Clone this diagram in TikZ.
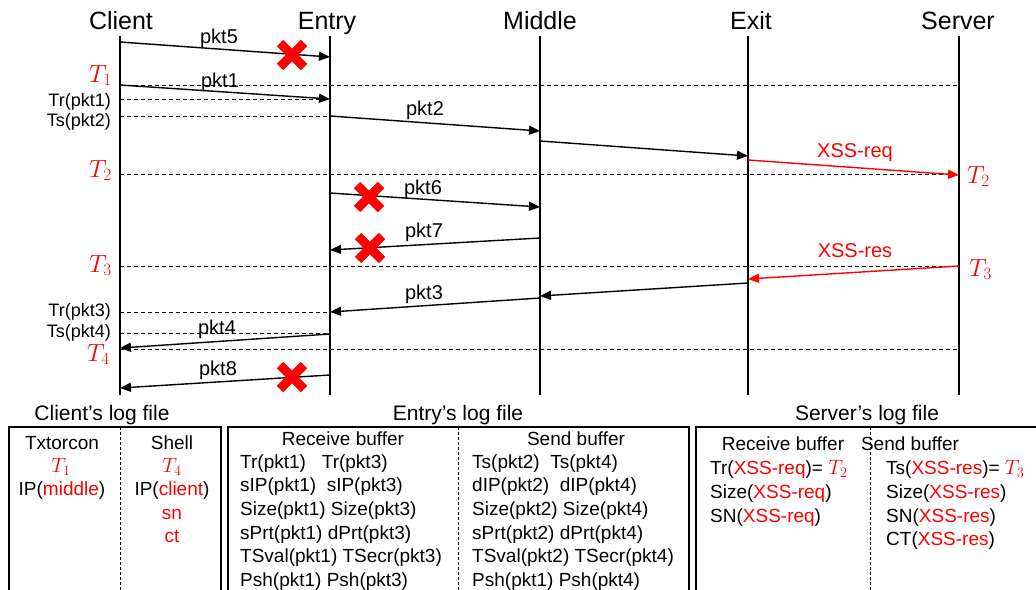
\documentclass[tikz,border=0pt]{standalone}
\usepackage{fontspec}
\setmainfont{Liberation Sans}
\usetikzlibrary{arrows.meta}
\newcommand{\redT}[1]{\textcolor{red}{\fontsize{21}{23}\selectfont$T_{#1}$}}
\begin{document}
\begin{tikzpicture}[x=1pt,y=-1pt,
  life/.style={line width=2.2pt},
  msg/.style={line width=1.4pt,-{Triangle[length=11pt,width=9pt]}},
  xss/.style={msg,color=red},
  guide/.style={line width=0.8pt,dash pattern=on 4pt off 3pt},
  head/.style={font=\fontsize{25}{28}\selectfont,inner sep=0pt,anchor=base},
  lbl/.style={font=\fontsize{20}{24}\selectfont,inner sep=0pt,anchor=base},
  side/.style={font=\fontsize{18}{22}\selectfont,inner sep=0pt,anchor=east},
  tm/.style={text=red,font=\fontsize{24}{28}\selectfont,inner sep=0pt},
  logtitle/.style={font=\fontsize{21}{25}\selectfont,inner sep=0pt,anchor=base},
  logbox/.style={line width=1.2pt},
  logsep/.style={line width=0.9pt,dash pattern=on 3pt off 2pt},
  row/.style={font=\fontsize{19}{23}\selectfont,inner sep=0pt,anchor=base west},
  crow/.style={font=\fontsize{19}{23}\selectfont,inner sep=0pt,anchor=base},
  lost mark/.pic={\draw[red,line width=9pt] (-12pt,-12pt) -- (12pt,12pt) (-12pt,12pt) -- (12pt,-12pt);},
]
\useasboundingbox (0,0) rectangle (1036,589);
\clip (0,0) rectangle (1036,589);

% ---------- lifeline heads ----------
\node[head] (client) at (121,29) {Client};
\node[head] (entry)  at (327,29) {Entry};
\node[head] (middle) at (540,29) {Middle};
\node[head] (exit)   at (751,29) {Exit};
\node[head] (server) at (958,29) {Server};

% ---------- time guides ----------
\coordinate (g1a) at (120,85);  \coordinate (g1b) at (959,85);
\coordinate (g2a) at (120,99);  \coordinate (g2b) at (330,99);
\coordinate (g3a) at (120,116); \coordinate (g3b) at (330,116);
\coordinate (g4a) at (120,174); \coordinate (g4b) at (959,174);
\coordinate (g5a) at (120,266); \coordinate (g5b) at (959,266);
\coordinate (g6a) at (120,312); \coordinate (g6b) at (330,312);
\coordinate (g7a) at (120,333); \coordinate (g7b) at (330,333);
\coordinate (g8a) at (120,349); \coordinate (g8b) at (959,349);
\foreach \g in {1,...,8} \draw[guide] (g\g a) -- (g\g b);

% ---------- lifelines ----------
\coordinate (cl0) at (120,36); \coordinate (cl1) at (120,395);
\coordinate (en0) at (330,36); \coordinate (en1) at (330,395);
\coordinate (mi0) at (540,36); \coordinate (mi1) at (540,395);
\coordinate (ex0) at (748,36); \coordinate (ex1) at (748,395);
\coordinate (se0) at (959,36); \coordinate (se1) at (959,395);
\foreach \l in {cl,en,mi,ex,se} \draw[life] (\l0) -- (\l1);

% ---------- time labels ----------
\node[tm,anchor=base east] (t1l) at (112,82) {$T_1$};
\node[side] (trp1) at (111,102) {Tr(pkt1)};
\node[side] (tsp2) at (111,122) {Ts(pkt2)};
\node[tm,anchor=base east] (t2l) at (112,177) {$T_2$};
\node[tm,anchor=base east] (t3l) at (112,272) {$T_3$};
\node[side] (trp3) at (111,312) {Tr(pkt3)};
\node[side] (tsp4) at (111,333) {Ts(pkt4)};
\node[tm,anchor=base east] (t4l) at (110,361) {$T_4$};
\node[tm,anchor=base west] (t2r) at (967,183) {$T_2$};
\node[tm,anchor=base west] (t3r) at (969,276) {$T_3$};

% ---------- messages ----------
\coordinate (p5a) at (120,42);  \coordinate (p5b) at (330,57);
\coordinate (p1a) at (120,85);  \coordinate (p1b) at (330,99);
\coordinate (p2a) at (330,116); \coordinate (p2b) at (540,131);
\coordinate (m2a) at (540,141); \coordinate (m2b) at (748,156);
\coordinate (xqa) at (748,160); \coordinate (xqb) at (959,175);
\coordinate (p6a) at (330,193); \coordinate (p6b) at (540,207);
\coordinate (p7a) at (540,238); \coordinate (p7b) at (330,250);
\coordinate (xra) at (959,266); \coordinate (xrb) at (748,279);
\coordinate (e2a) at (748,283); \coordinate (e2b) at (540,296);
\coordinate (p3a) at (540,298); \coordinate (p3b) at (330,312);
\coordinate (p4a) at (330,334); \coordinate (p4b) at (120,348);
\coordinate (p8a) at (330,375); \coordinate (p8b) at (120,388);

\foreach \m in {p5,p1,p2,m2,p6,p7,e2,p3,p4,p8} \draw[msg] (\m a) -- (\m b);
\draw[xss] (xqa) -- (xqb);
\draw[xss] (xra) -- (xrb);

\node[lbl] (lp5) at (219,43) {pkt5};
\node[lbl] (lp1) at (220,87) {pkt1};
\node[lbl] (lp2) at (425,115) {pkt2};
\node[lbl] (lp6) at (423,194) {pkt6};
\node[lbl] (lp7) at (424,237) {pkt7};
\node[lbl] (lp3) at (424,299) {pkt3};
\node[lbl] (lp4) at (217,334) {pkt4};
\node[lbl] (lp8) at (218,375) {pkt8};
\node[lbl,text=red] (lxq) at (855,157) {XSS-req};
\node[lbl,text=red] (lxr) at (855,257) {XSS-res};

% ---------- dropped packets ----------
\pic at (292,55) {lost mark};
\pic at (369,197) {lost mark};
\pic at (370,248) {lost mark};
\pic at (292,377) {lost mark};

% ---------- log files ----------
\node[logtitle] (clog) at (102,420) {Client’s log file};
\node[logtitle] (elog) at (458,420) {Entry’s log file};
\node[logtitle] (slog) at (867,420) {Server’s log file};

\draw[logbox] (9,620) |- (221,427) -- (221,620);
\draw[logsep] (120,427) -- (120,620);
\draw[logbox] (228,620) |- (689,427) -- (689,620);
\draw[logsep] (458,427) -- (458,620);
\draw[logbox] (696,620) |- (1060,427);
\draw[logsep] (870,427) -- (870,620);

% client log
\node[crow] (c11) at (62,449) {Txtorcon};
\node[crow] (c12) at (61,472) {\redT{1}};
\node[crow] (c13) at (62,495) {IP(\textcolor{red}{middle})};
\node[crow] (c21) at (172,449) {Shell};
\node[crow] (c22) at (172,472) {\redT{4}};
\node[crow] (c23) at (172,495) {IP(\textcolor{red}{client})};
\node[crow,text=red] (c24) at (172,519) {sn};
\node[crow,text=red] (c25) at (172,542) {ct};

% entry log
\node[crow] (erh) at (343,445) {Receive buffer};
\node[crow] (esh) at (576,445) {Send buffer};
\foreach \t [count=\i] in {{Tr(pkt1)~~~Tr(pkt3)},{sIP(pkt1)~~sIP(pkt3)},{Size(pkt1) Size(pkt3)},
    {sPrt(pkt1) dPrt(pkt3)},{TSval(pkt1) TSecr(pkt3)},{Psh(pkt1) Psh(pkt3)}}
  \node[row] (er\i) at (240,468+23.7*\i-23.7) {\t};
\foreach \t [count=\i] in {{Ts(pkt2)~~Ts(pkt4)},{dIP(pkt2)~~dIP(pkt4)},{Size(pkt2) Size(pkt4)},
    {sPrt(pkt2) dPrt(pkt4)},{TSval(pkt2) TSecr(pkt4)},{Psh(pkt1) Psh(pkt4)}}
  \node[row] (es\i) at (472,468+23.7*\i-23.7) {\t};

% server log
\node[crow] (srh) at (783,450) {Receive buffer};
\node[crow] (ssh) at (910,450) {Send buffer};
\node[row] (sr1) at (710,474) {Tr(\textcolor{red}{XSS-req})= \redT{2}};
\node[row] (sr2) at (710,498) {Size(\textcolor{red}{XSS-req})};
\node[row] (sr3) at (710,522) {SN(\textcolor{red}{XSS-req})};
\node[row] (ss1) at (886,474) {Ts(\textcolor{red}{XSS-res})= \redT{3}};
\node[row] (ss2) at (886,498) {Size(\textcolor{red}{XSS-res})};
\node[row] (ss3) at (886,522) {SN(\textcolor{red}{XSS-res})};
\node[row] (ss4) at (886,545) {CT(\textcolor{red}{XSS-res})};
\end{tikzpicture}
\end{document}
